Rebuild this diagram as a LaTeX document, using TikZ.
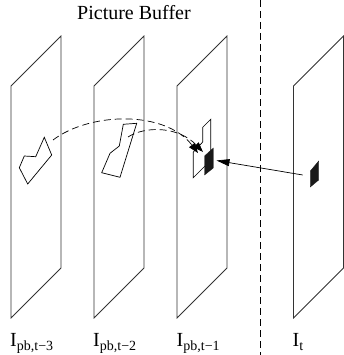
\documentclass[tikz,border=0pt]{standalone}
\usepackage{fontspec}
\setmainfont{Liberation Serif}
\usetikzlibrary{arrows.meta}
\begin{document}
\begin{tikzpicture}[x=1pt,y=-1pt,
  frame/.style={draw=black!80, line width=0.8pt, line join=miter},
  region/.style={draw=black, line width=0.7pt, line join=miter},
  patch/.style={fill=black!90, draw=black!90, line width=0.3pt},
  motion/.style={draw=black, line width=0.7pt, dash pattern=on 7pt off 4pt,
    -{Triangle[length=10pt,width=7pt]}},
  vecarrow/.style={draw=black, line width=0.7pt, -{Triangle[length=13pt,width=7pt]}},
  divider/.style={draw=black, line width=0.8pt, dash pattern=on 7pt off 4pt},
  lbl/.style={anchor=base west, inner sep=0pt, font=\fontsize{20}{22}\selectfont},
  sub/.style={font=\fontsize{14}{14}\selectfont}
]
\useasboundingbox (0,0) rectangle (344,355);

% frames
\foreach \x in {11,94,177,293.5}{
  \draw[frame] (\x,86) -- (\x+50,36) -- (\x+50,268) -- (\x,318) -- cycle;
}

% divider
\draw[divider] (260,0) -- (260,355);

% regions
\draw[region] (44.3,137.3) -- (51.7,155) -- (27.7,184) -- (19.3,167.7) -- (24.3,156) -- (35.7,156.7) -- cycle;
\draw[region] (123.3,124.3) -- (136.7,123.3) -- (120,177.3) -- (101.7,172.7) -- (110,153.3) -- (119.3,146) -- cycle;
\draw[region] (202.7,127.3) -- (210.7,119.3) -- (210.7,160.3) -- (193.3,177.7) -- (193.3,152) -- (202.7,142) -- cycle;

% black patches
\fill[patch] (204.5,156) -- (213.3,148) -- (213.3,168) -- (204.5,175) -- cycle;
\fill[patch] (310.3,171) -- (318.7,161) -- (318.7,180) -- (310.3,187) -- cycle;

% coordinates
\coordinate (r1) at (53,140);
\coordinate (r2) at (128,137);
\coordinate (t1) at (198,153);
\coordinate (t2) at (203,152);
\coordinate (src) at (302.7,175);
\coordinate (dst) at (216.5,160.5);

% motion curves
\draw[motion] (r1) .. controls (90,112) and (165,110) .. (t1);
\draw[motion] (r2) .. controls (145,126) and (178,126) .. (t2);

% vector arrow
\draw[vecarrow] (src) -- (dst);

% labels
\node[lbl] (title) at (77,20) {Picture Buffer};
\node[lbl] (l1) at (10,346) {I\raisebox{-4.5pt}{\fontsize{14}{14}\selectfont pb,t−3}};
\node[lbl] (l2) at (93,346) {I\raisebox{-4.5pt}{\fontsize{14}{14}\selectfont pb,t−2}};
\node[lbl] (l3) at (176.5,346) {I\raisebox{-4.5pt}{\fontsize{14}{14}\selectfont pb,t−1}};
\node[lbl] (l4) at (292.5,346) {I\raisebox{-4.5pt}{\fontsize{14}{14}\selectfont t}};
\end{tikzpicture}
\end{document}
